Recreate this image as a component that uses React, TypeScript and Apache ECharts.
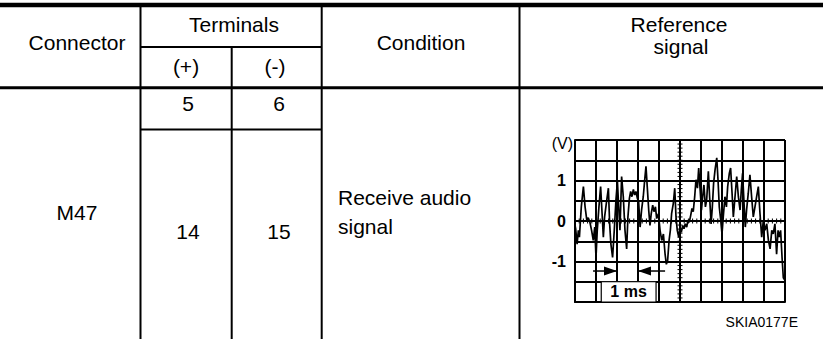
import React, { useEffect, useRef } from "react";
import * as echarts from "echarts";

// Oscilloscope trace: time (ms) and voltage (V)
const times = [
  0.0, 0.03, 0.1, 0.16, 0.21, 0.3, 0.4, 0.48, 0.56, 0.63, 0.71, 0.79, 0.87, 0.94, 1.0, 1.06, 1.14, 1.22, 1.29, 1.35,
  1.41, 1.49, 1.59, 1.65, 1.71, 1.79, 1.87, 1.95, 2.02, 2.08, 2.14, 2.22, 2.3, 2.38, 2.46, 2.52, 2.59, 2.65, 2.71, 2.78,
  2.84, 2.9, 2.97, 3.03, 3.1, 3.17, 3.25, 3.32, 3.38, 3.44, 3.51, 3.57, 3.63, 3.7, 3.76, 3.83, 3.89, 3.97, 4.05, 4.13,
  4.21, 4.29, 4.35, 4.41, 4.48, 4.54, 4.6, 4.68, 4.75, 4.81, 4.87, 4.94, 5.0, 5.06, 5.13, 5.19, 5.25, 5.32, 5.38, 5.44,
  5.51, 5.57, 5.63, 5.7, 5.76, 5.83, 5.89, 5.95, 6.02, 6.08, 6.14, 6.21, 6.27, 6.35, 6.41, 6.48, 6.54, 6.6, 6.67, 6.75,
  6.81, 6.87, 6.94, 7.0, 7.06, 7.14, 7.21, 7.27, 7.35, 7.41, 7.48, 7.54, 7.62, 7.7, 7.78, 7.86, 7.92, 7.98, 8.05, 8.11,
  8.17, 8.25, 8.33, 8.41, 8.49, 8.57, 8.65, 8.73, 8.81, 8.89, 8.97, 9.05, 9.13, 9.21, 9.29, 9.37, 9.44, 9.52, 9.6, 9.67,
  9.73, 9.79, 9.86, 9.92, 9.98,
];
const volts = [
  -0.1, -0.19, -0.57, -0.23, -0.4, 0.35, 0.85, 0.35, 0.03, 0.08, -0.03, -0.23, -0.48, -0.15, -0.9, -0.23, 0.35, 0.85, 0.18, -0.4,
  0.1, 0.43, 0.81, -0.07, -0.57, -0.9, -0.23, 0.52, 0.98, 0.35, -0.23, 1.1, 0.6, -0.23, -0.69, 0.1, 0.56, 0.73, 0.6, 0.78,
  0.64, 0.73, 0.56, 0.48, -0.15, 0.27, 0.6, 1.02, 1.35, 0.85, 0.27, -0.11, 0.18, 0.39, 0.23, 0.35, 0.06, 0.18, -0.23, -0.48,
  -0.32, -0.82, -1.07, -0.98, -0.48, -0.23, 0.18, 0.43, 0.81, 0.1, -0.23, -0.4, -0.15, -0.28, -0.11, -0.19, -0.07, -0.15, 0.02, -0.03,
  0.14, 0.31, 0.23, 0.6, 1.02, 0.81, 1.31, 0.85, 0.27, 0.6, 0.89, 0.35, 0.52, 1.23, 0.6, -0.07, 0.35, 0.93, 1.27, 1.56,
  1.02, 0.35, 0.02, -0.32, 0.1, 0.6, 0.35, 0.85, 1.18, 1.31, 0.68, 0.1, 0.6, 1.1, 0.6, 0.27, 0.77, 1.18, 0.43, -0.15,
  0.27, 0.68, 1.14, 0.6, 0.1, 0.35, 0.6, 0.85, 0.18, -0.4, 0.02, -0.23, -0.07, -0.48, -0.69, -0.23, -0.32, -0.07, -0.82, -0.23,
  -0.4, -0.23, -0.9, -1.4, -1.45,
];
const yTickLabels = ["-1", "0", "1"];

const FONT = "'Liberation Sans', Arial, Helvetica, sans-serif";

export default function App() {
  const ref = useRef<HTMLDivElement>(null);
  useEffect(() => {
    if (!ref.current) return;
    const chart = echarts.init(ref.current, null, { renderer: "svg" });
    const axisLineStyle = { color: "#000", width: 2 };
    chart.setOption({
      animation: false,
      backgroundColor: "#fff",
      grid: { left: 575, top: 140, width: 210, height: 162, show: false },
      xAxis: {
        type: "value",
        min: 0,
        max: 10,
        interval: 1,
        axisLabel: { show: false },
        axisTick: { show: false },
        axisLine: { show: true, onZero: false, lineStyle: axisLineStyle },
        splitLine: { show: true, lineStyle: axisLineStyle },
      },
      yAxis: {
        type: "value",
        min: -2,
        max: 2,
        interval: 0.5,
        axisTick: { show: false },
        axisLine: { show: true, onZero: false, lineStyle: axisLineStyle },
        splitLine: { show: true, lineStyle: axisLineStyle },
        axisLabel: {
          color: "#000",
          fontWeight: "bold",
          fontSize: 16,
          fontFamily: FONT,
          margin: 9,
          formatter: (v: number) => {
            const s = String(v);
            return yTickLabels.includes(s) ? s : "";
          },
        },
      },
      series: [
        {
          type: "line",
          data: times.map((t, i) => [t, volts[i]]),
          symbol: "none",
          lineStyle: { color: "#000", width: 1.7 },
          z: 5,
        },
      ],
    });

    const px = (t: number, v: number) => chart.convertToPixel({ gridIndex: 0 }, [t, v]) as number[];
    const g: any[] = [];
    const line = (x1: number, y1: number, x2: number, y2: number, w: number) =>
      g.push({ type: "line", shape: { x1, y1, x2, y2 }, style: { stroke: "#000", lineWidth: w }, z: 10 });
    const text = (t: string, x: number, y: number, size: number, align = "center", weight = "normal") =>
      g.push({
        type: "text",
        x,
        y,
        style: { text: t, fill: "#000", font: `${weight} ${size}px ${FONT}`, align, verticalAlign: "middle" },
        z: 10,
      });

    // Table rules
    line(0, 5, 823, 5, 4.5);
    line(0, 87.7, 823, 87.7, 3);
    line(140, 47, 322, 47, 2);
    line(140, 129.5, 322, 129.5, 2);
    line(140.5, 7, 140.5, 339, 2);
    line(231.7, 48, 231.7, 339, 2);
    line(321.7, 7, 321.7, 339, 2);
    line(519.5, 7, 519.5, 339, 2);

    // Table texts
    text("Connector", 77, 42.5, 21);
    text("Terminals", 234, 24, 21);
    text("(+)", 186, 66, 21);
    text("(-)", 275, 66, 21);
    text("Condition", 421, 42.5, 21);
    text("Reference", 679, 24.5, 21);
    text("signal", 681, 46.2, 21);
    text("5", 188, 103.5, 21);
    text("6", 279, 103.5, 21);
    text("M47", 77, 212.5, 21);
    text("14", 188, 231.5, 21);
    text("15", 279, 231.5, 21);
    text("Receive audio", 338, 197.5, 21, "left");
    text("signal", 338, 226.6, 21, "left");
    text("SKIA0177E", 798, 321.7, 14, "right");

    // Scope decorations
    const top = px(0, 2);
    text("(V)", top[0] - 2, top[1] + 3, 16, "right");
    // minor ticks on centre lines
    for (let k = -20; k <= 20; k++) {
      const p = px(5, k / 10);
      line(p[0] - 2.5, p[1], p[0] + 2.5, p[1], 1);
    }
    for (let k = 0; k <= 50; k++) {
      const p = px(k / 5, 0);
      line(p[0], p[1] - 2.5, p[0], p[1] + 2.5, 1);
    }
    // 1 ms box
    const b1 = px(1.25, -1.5);
    const b2 = px(3.86, -2);
    g.push({
      type: "rect",
      shape: { x: b1[0], y: b1[1], width: b2[0] - b1[0], height: b2[1] - b1[1] },
      style: { fill: "#fff", stroke: "#000", lineWidth: 1.2 },
      z: 11,
    });
    const bc = px(2.55, -1.75);
    g.push({
      type: "text",
      x: bc[0],
      y: bc[1],
      style: { text: "1 ms", fill: "#000", font: `bold 16px ${FONT}`, align: "center", verticalAlign: "middle" },
      z: 12,
    });
    // arrows
    const av = -1.235;
    const l0 = px(0.86, av), l1 = px(2, av);
    const r0 = px(3, av), r1 = px(4.29, av);
    line(l0[0], l0[1], l1[0], l1[1], 1.5);
    line(r0[0], r0[1], r1[0], r1[1], 1.5);
    g.push({
      type: "polygon",
      shape: { points: [[l1[0], l1[1]], [l1[0] - 13, l1[1] - 4.5], [l1[0] - 13, l1[1] + 4.5]] },
      style: { fill: "#000" },
      z: 11,
    });
    g.push({
      type: "polygon",
      shape: { points: [[r0[0], r0[1]], [r0[0] + 13, r0[1] - 4.5], [r0[0] + 13, r0[1] + 4.5]] },
      style: { fill: "#000" },
      z: 11,
    });

    chart.setOption({ graphic: g });
    return () => chart.dispose();
  }, []);
  return <div ref={ref} style={{ position: "absolute", left: 0, top: 0, width: 823, height: 339 }} />;
}
